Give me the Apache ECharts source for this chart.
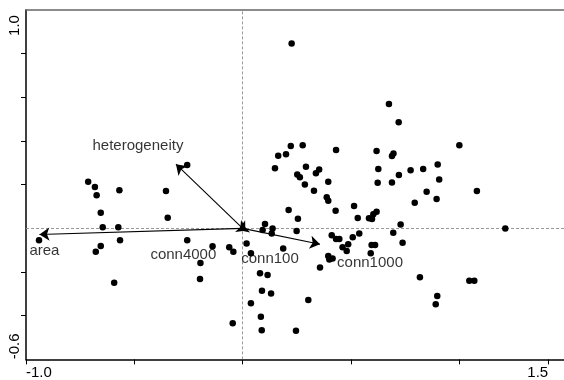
<!DOCTYPE html>
<html><head><meta charset="utf-8">
<script src="https://cdn.jsdelivr.net/npm/echarts@6/dist/echarts.min.js"></script>
<style>html,body{margin:0;padding:0;background:#fff}#c{width:564px;height:380px}</style>
</head><body><div id="c"></div>
<script>
// Site scores (axis 1, axis 2)
const siteX = [0.226,0.675,0.720,1.000,0.696,0.689,0.626,0.900,0.833,0.775,0.721,0.689,0.907,0.849,1.081,0.895,0.794,0.729,0.695,0.738,1.212,
  0.277,0.222,0.431,0.618,0.164,0.200,0.149,0.292,0.353,0.338,0.252,0.264,0.395,0.623,0.287,0.329,0.388,0.395,0.514,0.212,0.429,0.618,0.603,0.583,0.597,0.255,0.531,
  0.103,0.092,0.138,0.134,0.249,0.411,0.431,0.446,0.508,0.538,0.487,0.461,0.480,0.595,0.611,0.591,0.018,0.187,0.038,0.395,0.415,0.400,0.357,
  -0.139,-0.062,-0.043,-0.195,-0.197,0.080,0.115,0.089,0.131,0.038,0.303,-0.046,0.084,0.088,0.246,0.818,0.898,0.891,1.046,1.069,
  -0.713,-0.682,-0.674,-0.569,-0.354,-0.256,-0.655,-0.346,-0.646,-0.574,-0.940,-0.566,-0.256,-0.655,-0.678,-0.593];
const siteY = [0.847,0.569,0.486,0.381,0.343,0.331,0.272,0.293,0.272,0.266,0.244,0.210,0.224,0.168,0.171,0.134,0.117,0.018,-0.020,-0.066,0.000,
  0.381,0.377,0.359,0.354,0.332,0.340,0.275,0.282,0.270,0.252,0.247,0.234,0.213,0.209,0.201,0.172,0.142,0.126,0.103,0.084,0.081,0.076,0.065,0.046,0.043,0.044,0.047,
  0.020,-0.008,0.000,-0.023,-0.012,-0.031,-0.049,-0.049,-0.041,-0.023,-0.073,-0.087,-0.104,-0.076,-0.076,-0.114,-0.069,-0.092,-0.114,-0.127,-0.138,-0.142,-0.179,
  -0.082,-0.087,-0.107,-0.158,-0.232,-0.206,-0.214,-0.286,-0.298,-0.343,-0.328,-0.435,-0.405,-0.466,-0.469,-0.224,-0.310,-0.347,-0.240,-0.240,
  0.213,0.190,0.152,0.175,0.171,0.290,0.071,0.049,0.005,0.005,-0.054,-0.054,-0.054,-0.081,-0.107,-0.249];
// Environmental variable arrows
const varNames = ['area','heterogeneity','conn4000','conn100','conn1000'];
const varX = [-0.938,-0.308,-0.020,0.020,0.357];
const varY = [-0.028,0.294,-0.008,-0.010,-0.073];
// Axis ticks / end labels
const xTickValues = [-1.0,-0.5,0,0.5,1.0,1.41];
const yTickValues = [-0.4,-0.2,0.2,0.4,0.6,0.8];
const xEndValues = [-1.0,1.41];
const xEndLabels = ['-1.0','1.5'];
const yEndValues = [-0.6,1.0];
const yEndLabels = ['-0.6','1.0'];

const X_MIN = -1.0, X_MAX = 1.483, Y_MIN = -0.6, Y_MAX = 1.0;
const FONT = "'Liberation Sans', Arial, Helvetica, sans-serif";
const labelOffsets = [[5,16],[-38,-18],[-55,25],[23,28],[50,19]];

const chart = echarts.init(document.getElementById('c'), null, {renderer:'canvas'});
const sites = siteX.map((x,i)=>[x, siteY[i]]);
const arrows = varX.map((x,i)=>({coords:[[0,0],[x,varY[i]]]}));
const tips = varX.map((x,i)=>({value:[x,varY[i]], name:varNames[i],
  label:{offset:labelOffsets[i]}}));

const option = {
  animation:false,
  backgroundColor:'#fff',
  grid:{left:26, right:0, top:10, bottom:20.6, containLabel:false},
  xAxis:[{
    type:'value', min:X_MIN, max:X_MAX, position:'bottom',
    axisLine:{onZero:false, lineStyle:{color:'#000', width:1.5}},
    axisTick:{show:true, inside:false, length:5, customValues:xTickValues, lineStyle:{color:'#000', width:1}},
    axisLabel:{show:false}, splitLine:{show:false}
  },{
    type:'value', min:X_MIN, max:X_MAX, position:'top',
    axisLine:{onZero:false, lineStyle:{color:'#666', width:1.5}},
    axisTick:{show:false}, axisLabel:{show:false}, splitLine:{show:false}
  }],
  yAxis:{
    type:'value', min:Y_MIN, max:Y_MAX,
    axisLine:{onZero:false, lineStyle:{color:'#000', width:1.5}},
    axisTick:{show:true, inside:false, length:5, customValues:yTickValues, lineStyle:{color:'#000', width:1}},
    axisLabel:{show:false}, splitLine:{show:false}
  },
  series:[
    {
      type:'scatter', name:'sites', data:sites, symbol:'circle', symbolSize:6.5,
      itemStyle:{color:'#000', opacity:1}, z:3,
      markLine:{silent:true, symbol:'none', label:{show:false},
        lineStyle:{color:'#999', width:1, type:[3,2]},
        data:[{xAxis:0},{yAxis:0}], z:1}
    },
    {
      type:'lines', coordinateSystem:'cartesian2d', data:arrows,
      symbol:['none','arrow'], symbolSize:10,
      lineStyle:{color:'#000', width:1.1, opacity:1}, z:4
    },
    {
      type:'scatter', name:'varLabels', data:tips, symbolSize:0, silent:true, z:5,
      label:{show:true, position:'inside', formatter:p=>p.name, color:'#000',
        fontSize:15, fontFamily:FONT, align:'center', verticalAlign:'middle'}
    }
  ]
};
chart.setOption(option);

const px = v=>chart.convertToPixel({xAxisIndex:0}, v);
const py = v=>chart.convertToPixel({yAxisIndex:0}, v);
const bottom = py(Y_MIN), left = px(X_MIN);
const gr = [];
xEndValues.forEach((v,i)=>{
  gr.push({type:'text', x:px(v), y:bottom+13.5, silent:true,
    style:{text:xEndLabels[i], fontSize:15, fontFamily:FONT, fill:'#000',
      align:i===0?'left':'right', verticalAlign:'middle'}});
});
yEndValues.forEach((v,i)=>{
  gr.push({type:'text', x:left-11.5, y:py(v)+(i===0?-13:15.5), rotation:Math.PI/2, silent:true,
    style:{text:yEndLabels[i], fontSize:15, fontFamily:FONT, fill:'#000',
      align:'center', verticalAlign:'middle'}});
});
chart.setOption({graphic:gr});
</script></body></html>
